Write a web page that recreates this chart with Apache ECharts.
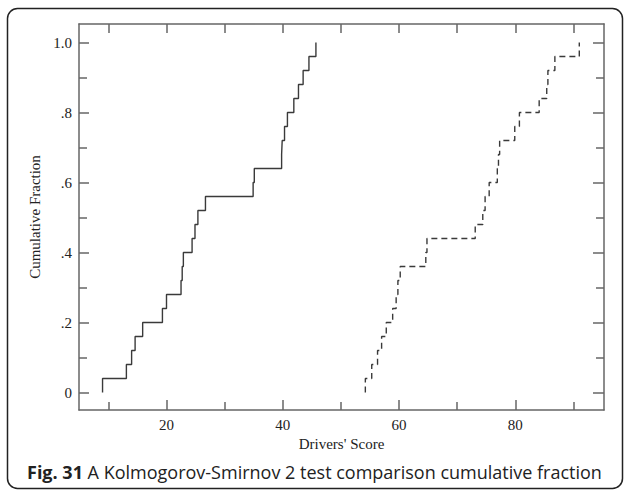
<!DOCTYPE html>
<html>
<head>
<meta charset="utf-8">
<script src="https://cdn.jsdelivr.net/npm/echarts@6/dist/echarts.min.js"></script>
<style>
  html, body { margin: 0; padding: 0; background: #fff; }
  #chart { width: 624px; height: 492px; }
</style>
</head>
<body>
<div id="chart"></div>
<script>
// sample 1 (solid) and sample 2 (dashed), sorted drivers' scores
var scoresA = [9.0, 13.1, 14.0, 14.6, 15.9, 19.3, 20.0, 22.5, 22.7, 22.9, 24.4, 24.9, 25.4,
    26.7, 34.9, 35.1, 39.8, 39.9, 40.3, 40.8, 41.9, 42.7, 43.5, 44.5, 45.7];
var scoresB = [54.2, 55.3, 56.3, 57.0, 57.8, 58.9, 59.5, 59.8, 60.2, 64.6, 64.8, 73.1, 74.4,
    74.8, 75.5, 76.9, 77.1, 77.3, 79.9, 80.7, 84.1, 85.4, 85.6, 86.8, 91.0];
var cumFraction = [0.04, 0.08, 0.12, 0.16, 0.20, 0.24, 0.28, 0.32, 0.36, 0.40, 0.44, 0.48, 0.52,
    0.56, 0.60, 0.64, 0.68, 0.72, 0.76, 0.80, 0.84, 0.88, 0.92, 0.96, 1.00];

var xMajor = [20, 40, 60, 80];
var xMinor = [10, 30, 50, 70, 90];
var xAll = [10, 20, 30, 40, 50, 60, 70, 80, 90];
var yMajor = [0, 0.2, 0.4, 0.6, 0.8, 1.0];
var yMinor = [0.1, 0.3, 0.5, 0.7, 0.9];
var yTickLabels = ["0", ".2", ".4", ".6", ".8", "1.0"];

function ecdf(xs) {
    var pts = [[xs[0], 0]];
    for (var i = 0; i < xs.length; i++) {
        pts.push([xs[i], cumFraction[i]]);
    }
    return pts;
}

var axisColor = "#666";
var serif = "Liberation Serif";
var X_MIN = 4.95, X_MAX = 95.25, Y_MIN = -0.05, Y_MAX = 1.053;

function xAxisCfg(pos, ticks, len, showLine) {
    return {
        type: "value", position: pos, min: X_MIN, max: X_MAX,
        axisLine: {show: showLine, onZero: false, lineStyle: {color: axisColor, width: 1.5}},
        axisTick: {show: true, inside: true, length: len, customValues: ticks,
            lineStyle: {color: axisColor, width: 1.5}},
        axisLabel: {show: false},
        splitLine: {show: false}
    };
}
function yAxisCfg(pos, ticks, len, showLine) {
    return {
        type: "value", position: pos, min: Y_MIN, max: Y_MAX,
        axisLine: {show: showLine, onZero: false, lineStyle: {color: axisColor, width: 1.5}},
        axisTick: {show: true, inside: true, length: len, customValues: ticks,
            lineStyle: {color: axisColor, width: 1.5}},
        axisLabel: {show: false},
        splitLine: {show: false}
    };
}

var xMain = xAxisCfg("bottom", xMajor, 10, true);
xMain.name = "Drivers' Score";
xMain.nameLocation = "middle";
xMain.nameGap = 22;
xMain.nameTextStyle = {fontFamily: serif, fontSize: 15, color: "#222"};
xMain.axisLabel = {show: true, customValues: xMajor, margin: 7,
    fontFamily: serif, fontSize: 15, color: "#222"};

var yMain = yAxisCfg("left", yMajor, 10, true);
yMain.name = "Cumulative Fraction";
yMain.nameLocation = "middle";
yMain.nameGap = 31;
yMain.nameTextStyle = {fontFamily: serif, fontSize: 15, color: "#222"};
yMain.axisLabel = {show: true, customValues: yMajor, margin: 7,
    fontFamily: serif, fontSize: 15, color: "#222",
    formatter: function (v) {
        for (var i = 0; i < yMajor.length; i++) {
            if (Math.abs(yMajor[i] - v) < 1e-6) return yTickLabels[i];
        }
        return "";
    }};

var chart = echarts.init(document.getElementById("chart"), null, {renderer: "svg"});
var option = {
    animation: false,
    backgroundColor: "#fff",
    title: {
        left: 22, top: 458,
        text: "{b|Fig. 31} A Kolmogorov-Smirnov 2 test comparison cumulative fraction",
        textStyle: {
            fontFamily: "Open Sans", fontSize: 18, fontWeight: "normal", color: "#222",
            rich: {b: {fontFamily: "Open Sans", fontSize: 18, fontWeight: "bold", color: "#222"}}
        }
    },
    graphic: [{
        type: "rect", silent: true,
        shape: {x: 7.5, y: 8.5, width: 615, height: 480, r: 10},
        style: {fill: "none", stroke: "#222", lineWidth: 1.5}
    }],
    grid: {left: 79, right: 20, top: 24, bottom: 82, containLabel: false, outerBoundsMode: "none"},
    xAxis: [
        xMain,
        xAxisCfg("bottom", xMinor, 8, false),
        xAxisCfg("top", xAll, 9, true)
    ],
    yAxis: [
        yMain,
        yAxisCfg("left", yMinor, 8, false),
        yAxisCfg("right", yMajor, 11, true),
        yAxisCfg("right", yMinor, 8, false)
    ],
    series: [
        {
            type: "line", step: "end", showSymbol: false, symbol: "none",
            data: ecdf(scoresA),
            lineStyle: {color: "#3a3a3a", width: 1.4}
        },
        {
            type: "line", step: "end", showSymbol: false, symbol: "none",
            data: ecdf(scoresB),
            lineStyle: {color: "#3a3a3a", width: 1.4, type: [6, 4]}
        }
    ]
};
chart.setOption(option);
</script>
</body>
</html>
